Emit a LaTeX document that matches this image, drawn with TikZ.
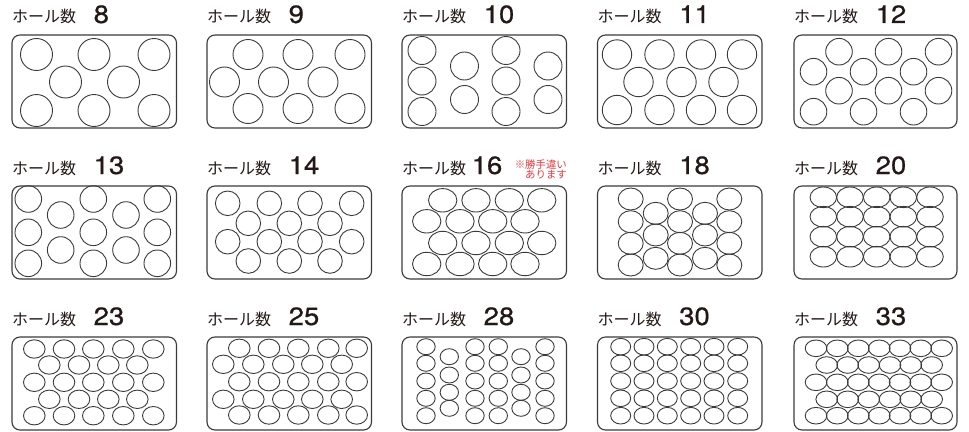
\documentclass[tikz,border=0pt]{standalone}
\usepackage{fontspec}
\newfontfamily\jpfont{Noto Sans CJK JP}
\newfontfamily\numfont[FakeBold=0.6, FakeStretch=1.1]{TeX Gyre Heros}
\definecolor{TrayInk}{HTML}{3A3A3A}
\definecolor{TitleInk}{HTML}{231815}
\definecolor{NoteRed}{HTML}{E8383D}

\begin{document}
\begin{tikzpicture}[x=1pt, y=-1pt,
    tray/.style={draw=TrayInk, line width=1.1pt, rounded corners=8pt},
    hole/.style={draw=TrayInk, line width=0.9pt},
    caption/.style={anchor=base west, inner sep=0pt, text=TitleInk, font=\jpfont\fontsize{16}{16}\selectfont},
    count/.style={anchor=base west, inner sep=0pt, text=TitleInk, font=\numfont\fontsize{25}{25}\selectfont},
    note/.style={anchor=base east, inner sep=0pt, text=NoteRed, font=\jpfont\fontsize{10.4}{10.4}\selectfont}]
    \useasboundingbox (0,0) rectangle (969,431);

    % Row 1: 8 / 9 / 10 / 11 / 12
    \node[caption] (cap8) at (12,23) {ホール数};
    \node[count] (num8) at (93.5,23) {8};
    \begin{scope}[shift={(12,35)}]
        \draw[tray] (0,0) rectangle (164.5,93);
        \foreach \x in {24.5,82,142} \foreach \y in {19.5,75.5}
            \draw[hole] (\x,\y) circle[radius=16pt];
        \foreach \x in {53.5,111.5} \draw[hole] (\x,47) circle[radius=16pt];
    \end{scope}

    \node[caption] (cap9) at (207,23) {ホール数};
    \node[count] (num9) at (288.5,23) {9};
    \begin{scope}[shift={(207,35)}]
        \draw[tray] (0,0) rectangle (164.5,93);
        \foreach \x in {41,91,143} \foreach \y in {19.5,73.5}
            \draw[hole] (\x,\y) circle[radius=15pt];
        \foreach \x in {17.5,66.5,116} \draw[hole] (\x,47) circle[radius=15pt];
    \end{scope}

    \node[caption] (cap10) at (402,23) {ホール数};
    \node[count] (num10) at (483.5,23) {10};
    \begin{scope}[shift={(402,35)}]
        \draw[tray] (0,0) rectangle (164.5,93);
        \foreach \x in {20,104} \foreach \y in {15.5,46,76.5}
            \draw[hole] (\x,\y) circle[radius=14pt];
        \foreach \x in {62.5,146} \foreach \y in {31,64.5}
            \draw[hole] (\x,\y) circle[radius=14pt];
    \end{scope}

    \node[caption] (cap11) at (597.5,23) {ホール数};
    \node[count] (num11) at (679,23) {11};
    \begin{scope}[shift={(597.5,35)}]
        \draw[tray] (0,0) rectangle (164.5,93);
        \foreach \x in {19.5,62,103.5,144.5} \foreach \y in {19.5,75}
            \draw[hole] (\x,\y) circle[radius=14.7pt];
        \foreach \x in {41,84,126} \draw[hole] (\x,47) circle[radius=14.7pt];
    \end{scope}

    \node[caption] (cap12) at (794,23) {ホール数};
    \node[count] (num12) at (875.5,23) {12};
    \begin{scope}[shift={(794,35)}]
        \draw[tray] (0,0) rectangle (163,93);
        \foreach \x in {45,94.5,144.5} \foreach \y in {16.7,55.7}
            \draw[hole] (\x,\y) circle[radius=13.3pt];
        \foreach \x in {19.5,69.5,119.5} \foreach \y in {36.7,76.7}
            \draw[hole] (\x,\y) circle[radius=13.3pt];
    \end{scope}

    % Row 2: 13 / 14 / 16 / 18 / 20
    \node[caption] (cap13) at (12,174) {ホール数};
    \node[count] (num13) at (93.5,174) {13};
    \begin{scope}[shift={(12,186)}]
        \draw[tray] (0,0) rectangle (164.5,93);
        \foreach \x in {16.3,81.3,145.3} \foreach \y in {13,46.3,77.3}
            \draw[hole] (\x,\y) circle[radius=13.3pt];
        \foreach \x in {48.7,114} \foreach \y in {29,64}
            \draw[hole] (\x,\y) circle[radius=13.3pt];
    \end{scope}

    \node[caption] (cap14) at (207,174) {ホール数};
    \node[count] (num14) at (288.5,174) {14};
    \begin{scope}[shift={(207,186)}]
        \draw[tray] (0,0) rectangle (164.5,93);
        \foreach \x in {20.7,62.3,103,144.7} \foreach \y in {17.3,55.7}
            \draw[hole] (\x,\y) circle[radius=12.3pt];
        \foreach \x in {41.3,82.3,123} \foreach \y in {37.3,75}
            \draw[hole] (\x,\y) circle[radius=12.3pt];
    \end{scope}

    \node[caption] (cap16) at (402,174) {ホール数};
    \node[count] (num16) at (471.5,174) {16};
    \node[note] (note16a) at (567,168.8) {※勝手違い};
    \node[note] (note16b) at (567,178.8) {あります};
    \begin{scope}[shift={(402,186)}]
        \draw[tray] (0,0) rectangle (164.5,93);
        \foreach \x in {40.7,74,107.3,139.7} \foreach \y in {14.3,57}
            \draw[hole] (\x,\y) ellipse[x radius=14.2pt, y radius=11.7pt];
        \foreach \x in {24.7,58,90.7,123} \foreach \y in {35.3,78}
            \draw[hole] (\x,\y) ellipse[x radius=14.2pt, y radius=11.7pt];
    \end{scope}

    \node[caption] (cap18) at (597.5,174) {ホール数};
    \node[count] (num18) at (679,174) {18};
    \begin{scope}[shift={(597.5,186)}]
        \draw[tray] (0,0) rectangle (164.5,93);
        \foreach \x in {33.2,82.5,131.8} \foreach \y in {13,35.7,57.3,79}
            \draw[hole] (\x,\y) ellipse[x radius=12.5pt, y radius=11pt];
        \foreach \x in {58.2,107.5} \foreach \y in {27.3,49,72.3}
            \draw[hole] (\x,\y) ellipse[x radius=12.5pt, y radius=11pt];
    \end{scope}

    \node[caption] (cap20) at (794,174) {ホール数};
    \node[count] (num20) at (875.5,174) {20};
    \begin{scope}[shift={(794,186)}]
        \draw[tray] (0,0) rectangle (163,93);
        \foreach \x in {29.3,56,82.7,109.3,136} \foreach \y in {11.3,30.7,50.7,70.7}
            \draw[hole] (\x,\y) ellipse[x radius=13.3pt, y radius=10.3pt];
    \end{scope}

    % Row 3: 23 / 25 / 28 / 30 / 33
    \node[caption] (cap23) at (12,325) {ホール数};
    \node[count] (num23) at (93.5,325) {23};
    \begin{scope}[shift={(12,337)}]
        \draw[tray] (0,0) rectangle (164.5,93);
        \foreach \x in {22.3,52,81.3,111.3,141.3} \foreach \y in {12,45.3,78.7}
            \draw[hole] (\x,\y) ellipse[x radius=10.8pt, y radius=9.2pt];
        \foreach \x in {37.3,67,96.3,125.3} \foreach \y in {28,62.3}
            \draw[hole] (\x,\y) ellipse[x radius=10.8pt, y radius=9.2pt];
    \end{scope}

    \node[caption] (cap25) at (207,325) {ホール数};
    \node[count] (num25) at (288.5,325) {25};
    \begin{scope}[shift={(207,337)}]
        \draw[tray] (0,0) rectangle (164.5,93);
        \foreach \x in {32.3,62,91.3,121.3,149.7} \foreach \y in {11.3,44.7,78}
            \draw[hole] (\x,\y) ellipse[x radius=10.8pt, y radius=9.2pt];
        \foreach \x in {16.3,46.3,76.3,105.3,134.7} \foreach \y in {27.3,62.3}
            \draw[hole] (\x,\y) ellipse[x radius=10.8pt, y radius=9.2pt];
    \end{scope}

    \node[caption] (cap28) at (402,325) {ホール数};
    \node[count] (num28) at (483.5,325) {28};
    \begin{scope}[shift={(402,337)}]
        \draw[tray] (0,0) rectangle (164.5,93);
        \foreach \x in {24,73,96.3,143} \foreach \y in {9.7,26.3,44,61.3,78.7}
            \draw[hole] (\x,\y) ellipse[x radius=9.2pt, y radius=8pt];
        \foreach \x in {47.3,119} \foreach \y in {19.7,38,55.3,71.3}
            \draw[hole] (\x,\y) ellipse[x radius=9.2pt, y radius=8pt];
    \end{scope}

    \node[caption] (cap30) at (597.5,325) {ホール数};
    \node[count] (num30) at (679,325) {30};
    \begin{scope}[shift={(597.5,337)}]
        \draw[tray] (0,0) rectangle (164.5,93);
        \foreach \x in {23.2,46.5,69.8,93.2,116.5,140.2} \foreach \y in {9.7,26.3,44,61.3,78.7}
            \draw[hole] (\x,\y) ellipse[x radius=10pt, y radius=8.3pt];
    \end{scope}

    \node[caption] (cap33) at (794,325) {ホール数};
    \node[count] (num33) at (875.5,325) {33};
    \begin{scope}[shift={(794,337)}]
        \draw[tray] (0,0) rectangle (163,93);
        \foreach \x in {22,43.3,64.3,85.3,106,126.7,147.7} \foreach \y in {11.3,45.3,78.7}
            \draw[hole] (\x,\y) ellipse[x radius=10.8pt, y radius=8.3pt];
        \foreach \x in {32.7,53.7,74.7,96,116.7,137.7} \foreach \y in {28,62.3}
            \draw[hole] (\x,\y) ellipse[x radius=10.8pt, y radius=8.3pt];
    \end{scope}
\end{tikzpicture}
\end{document}
